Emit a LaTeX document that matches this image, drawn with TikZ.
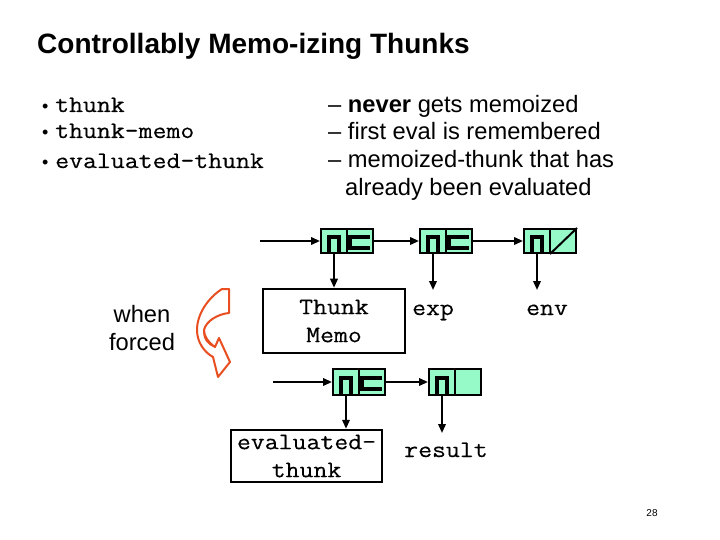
\documentclass[tikz,border=0pt]{standalone}
\usepackage{fontspec}
\setmainfont{Liberation Sans}
\newfontfamily\monofont{Latin Modern Mono}[FakeStretch=1.14,FakeBold=0.3]
\usetikzlibrary{arrows.meta,calc}
\definecolor{cellgreen}{RGB}{150,250,200}
\definecolor{arroworange}{RGB}{232,78,32}
\begin{document}
\begin{tikzpicture}[x=1bp,y=-1bp,
  sanstext/.style={font=\fontsize{23.7bp}{28bp}\selectfont, inner sep=0},
  bullettext/.style={font=\fontsize{18bp}{20bp}\selectfont, inner sep=0},
  monotext/.style={font=\monofont\fontsize{23.7bp}{28bp}\selectfont, inner sep=0},
  titletext/.style={font=\fontsize{28bp}{32bp}\selectfont\bfseries, inner sep=0},
  conn/.style={line width=2bp, -{Triangle[length=9bp,width=7.5bp]}},
  cell/.style={draw, line width=2bp, fill=cellgreen, minimum width=52bp, minimum height=24bp, inner sep=0},
  txtbox/.style={draw, line width=2.5bp, inner sep=0, align=center},
  ptrmark/.style={line width=3.5bp},
  divider/.style={line width=2bp}
]
\useasboundingbox (0,0) rectangle (720,540);

% title
\node[titletext, anchor=base west] (title) at (37,54) {Controllably Memo-izing Thunks};

% bullets
\node[bullettext, anchor=base west] (bu1) at (42,112.5) {•};
\node[monotext, anchor=base west] (t1) at (55,112) {thunk};
\node[bullettext, anchor=base west] (bu2) at (42,138.5) {•};
\node[monotext, anchor=base west] (t2) at (55,138) {thunk-memo};
\node[bullettext, anchor=base west] (bu3) at (42,168.5) {•};
\node[monotext, anchor=base west] (t3) at (55,168) {evaluated-thunk};

% descriptions
\node[sanstext, anchor=base west] (r1) at (328,113) {– \textbf{never} gets memoized};
\node[sanstext, anchor=base west] (r2) at (328,140) {– first eval is remembered};
\node[sanstext, anchor=base west] (r3) at (328,168) {– memoized-thunk that has};
\node[sanstext, anchor=base west] (r4) at (345,196) {already been evaluated};

% row 1 cells
\node[cell] (c1) at (347,241) {};
\node[cell] (c2) at (446,241) {};
\node[cell] (c3) at (550,241) {};
\foreach \c in {c1,c2,c3}{
  \draw[divider] (\c.north) -- (\c.south);
  \coordinate (\c l) at ($(\c.center)+(-13,0)$);
  \coordinate (\c r) at ($(\c.center)+(13,0)$);
  \coordinate (\c b) at (\c l |- \c.south);
  \draw[ptrmark] ($(\c l)+(-5,11)$) -- ($(\c l)+(-5,-4)$) -- ($(\c l)+(5,-4)$) -- ($(\c l)+(5,11)$);
}
\foreach \c in {c1,c2}{
  \draw[ptrmark] ($(\c r)+(10,-4)$) -- ($(\c r)+(-10,-4)$) -- ($(\c r)+(-10,7)$) -- ($(\c r)+(10,7)$);
}
\draw[divider] (c3.south) -- (c3.north east);

\coordinate (s1) at (260,241);
\draw[conn] (s1) -- (c1.west);
\draw[conn] (c1.east) -- (c2.west);
\draw[conn] (c2.east) -- (c3.west);

% targets of row 1
\node[txtbox, monotext, minimum width=142bp, minimum height=64bp] (tm) at (334,321) {Thunk\\Memo};
\draw[conn] (c1b) -- (c1b |- tm.north);
\coordinate (e2) at ($(c2b)+(0,36)$);
\coordinate (e3) at ($(c3b)+(0,36)$);
\draw[conn] (c2b) -- (e2);
\draw[conn] (c3b) -- (e3);
\node[monotext, anchor=base] (exp) at (433,315) {exp};
\node[monotext, anchor=base] (env) at (547,315) {env};

% row 2 cells
\node[cell, minimum height=26bp] (d1) at (359,382) {};
\node[cell, minimum height=26bp] (d2) at (455,382) {};
\foreach \c in {d1,d2}{
  \draw[divider] (\c.north) -- (\c.south);
  \coordinate (\c l) at ($(\c.center)+(-13,0)$);
  \coordinate (\c r) at ($(\c.center)+(13,0)$);
  \coordinate (\c b) at (\c l |- \c.south);
  \draw[ptrmark] ($(\c l)+(-5,12)$) -- ($(\c l)+(-5,-4)$) -- ($(\c l)+(5,-4)$) -- ($(\c l)+(5,12)$);
}
\draw[ptrmark] ($(d1r)+(10,-4)$) -- ($(d1r)+(-10,-4)$) -- ($(d1r)+(-10,7)$) -- ($(d1r)+(10,7)$);

\coordinate (s2) at (273,382);
\draw[conn] (s2) -- (d1.west);
\draw[conn] (d1.east) -- (d2.west);

\node[txtbox, monotext, minimum width=151bp, minimum height=52bp] (ev) at (306.5,456) {evaluated-\\thunk};
\draw[conn] (d1b) -- (d1b |- ev.north);
\coordinate (e4) at ($(d2b)+(0,37)$);
\draw[conn] (d2b) -- (e4);
\node[monotext, anchor=base] (res) at (446,457) {result};

% when forced
\node[sanstext, anchor=base] (wf1) at (142,322) {when};
\node[sanstext, anchor=base] (wf2) at (142,350) {forced};

% curved arrow
\draw[arroworange, line width=2bp, line join=round, fill=white]
  (229,289) -- (222,289)
  .. controls (208,298) and (197,314) .. (197,330)
  .. controls (197,342) and (204,352) .. (213,357)
  -- (218,377) -- (230,362) -- (219,338) -- (215,347)
  .. controls (208,342) and (204,336) .. (204,330)
  .. controls (206,321) and (218,314) .. (229,313)
  -- cycle;
\draw[arroworange, line width=1.5bp] (204,330) .. controls (203,338) and (208,345) .. (215,347);

% page number
\node[font=\fontsize{10bp}{12bp}\selectfont, inner sep=0] (pg) at (652,513) {28};
\end{tikzpicture}
\end{document}
